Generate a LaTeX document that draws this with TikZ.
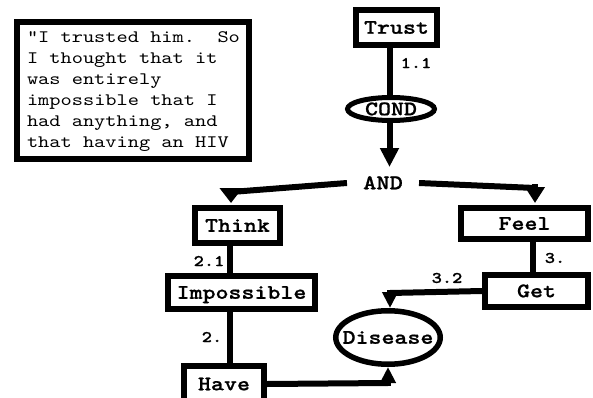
\documentclass[tikz,border=0pt]{standalone}
\usepackage{fontspec}
\usetikzlibrary{arrows.meta,shapes.geometric}
% Courier-like typewriter faces, widened to typewriter proportions
\newfontfamily\quotefont{lmmono10-regular.otf}[FakeStretch=1.22]
\newfontfamily\labelfont{lmmonolt10-bold.otf}[FakeStretch=1.2,FakeBold=0.8]
% a blank exactly one character cell wide
\newcommand\qs{\setbox0\hbox{x}\kern\wd0\relax}
\begin{document}
\begin{tikzpicture}[x=1pt,y=-1pt,
  concept/.style={draw, rectangle, line width=6pt, inner sep=0pt,
    font=\labelfont\fontsize{20.6}{20.6}\selectfont,
    text height=12.5pt, text depth=0pt},
  oval/.style={draw, ellipse, line width=5pt, inner sep=0pt,
    font=\labelfont\fontsize{20.6}{20.6}\selectfont,
    text height=12.5pt, text depth=0pt},
  elabel/.style={font=\labelfont\fontsize{16.2}{16.2}\selectfont, inner sep=1pt},
  conn/.style={line width=6pt}]
\useasboundingbox (0,0) rectangle (593,398);
\clip (0,0) rectangle (593,398);

% quotation
\node[draw, line width=6pt, anchor=north west, align=left, text width=212pt,
      inner xsep=10pt, inner ysep=0pt,
      font=\quotefont\fontsize{17.5}{21}\selectfont] (quote) at (14,19)
  {\rule{0pt}{21pt}“I\qs trusted\qs him.\qs\qs So\\
   I\qs thought\qs that\qs it\\
   was\qs entirely\\
   impossible\qs that\qs I\\
   had\qs anything,\qs and\\
   that\qs having\qs an\qs HIV\rule[-11pt]{0pt}{0pt}};

% concept nodes
\node[concept, minimum width=81pt, minimum height=35pt] (trust) at (396.5,27.5) {Trust};
\node[oval, minimum width=87pt, minimum height=23pt] (cond) at (391,109) {\makebox[40pt]{COND}};
\node[font=\labelfont\fontsize{21}{21}\selectfont, text height=12.5pt, text depth=0pt,
      inner xsep=16pt, inner ysep=2pt] (and) at (383,183) {AND};
\node[concept, minimum width=85pt, minimum height=35pt] (think) at (237.5,225.5) {Think};
\node[concept, minimum width=147pt, minimum height=33pt] (impossible) at (241.5,292.5) {Impossible};
\node[concept, minimum width=80pt, minimum height=36pt] (have) at (224,384) {Have};
\node[concept, minimum width=127pt, minimum height=31pt] (feel) at (524.5,223.5) {Feel};
\node[concept, minimum width=103pt, minimum height=32pt] (get) at (536.5,291) {Get};
\node[oval, line width=5.5pt, minimum width=104.5pt, minimum height=53.5pt] (disease)
  at (388,337.5) {\makebox[50pt]{Disease}};

% bend points of the connectors
\coordinate (andtip) at (389.5,167);
\coordinate (thinkbend) at (231,192);
\coordinate (feelbend) at (535,188);
\coordinate (havebend) at (388,383);
\coordinate (getbend) at (390,293);

% connectors
\draw[conn] (trust.south -| 389.5,0) -- (cond.north -| 389.5,0);
\draw[conn, -{Triangle[length=19pt,width=18pt]}] (cond.south -| 389.5,0) -- (andtip);

\draw[conn] (and.west) -- (thinkbend);
\draw[conn, -{Triangle[length=15pt,width=22pt]}] ([yshift=4pt]thinkbend) -- ([yshift=2pt]thinkbend |- think.north);
\draw[conn] (and.east) -- (feelbend);
\draw[conn, -{Triangle[length=16pt,width=19pt]}] ([yshift=4pt]feelbend) -- ([yshift=2pt]feelbend |- feel.north);

\draw[conn] (think.south -| 230,0) -- (impossible.north -| 230,0);
\draw[conn] (impossible.south -| 230,0) -- (have.north -| 230,0);
\draw[conn] (feel.south -| 533,0) -- (get.north -| 533,0);

\draw[conn] (have.east) -- (havebend);
\draw[conn, -{Triangle[length=16pt,width=15pt]}] ([yshift=-3pt]havebend) -- (disease.south);
\draw[conn] (get.west) -- (getbend);
\draw[conn, -{Triangle[length=16pt,width=15pt]}] ([yshift=3pt]getbend) -- (getbend |- disease.north);

% connector labels
\node[elabel] (l11) at (416,63) {1.1};
\node[elabel] (l21) at (209,261) {2.1};
\node[elabel] (l2) at (212,337) {2.};
\node[elabel] (l32) at (447,278) {3.2};
\node[elabel] (l3) at (555,258) {3.};
\end{tikzpicture}
\end{document}
